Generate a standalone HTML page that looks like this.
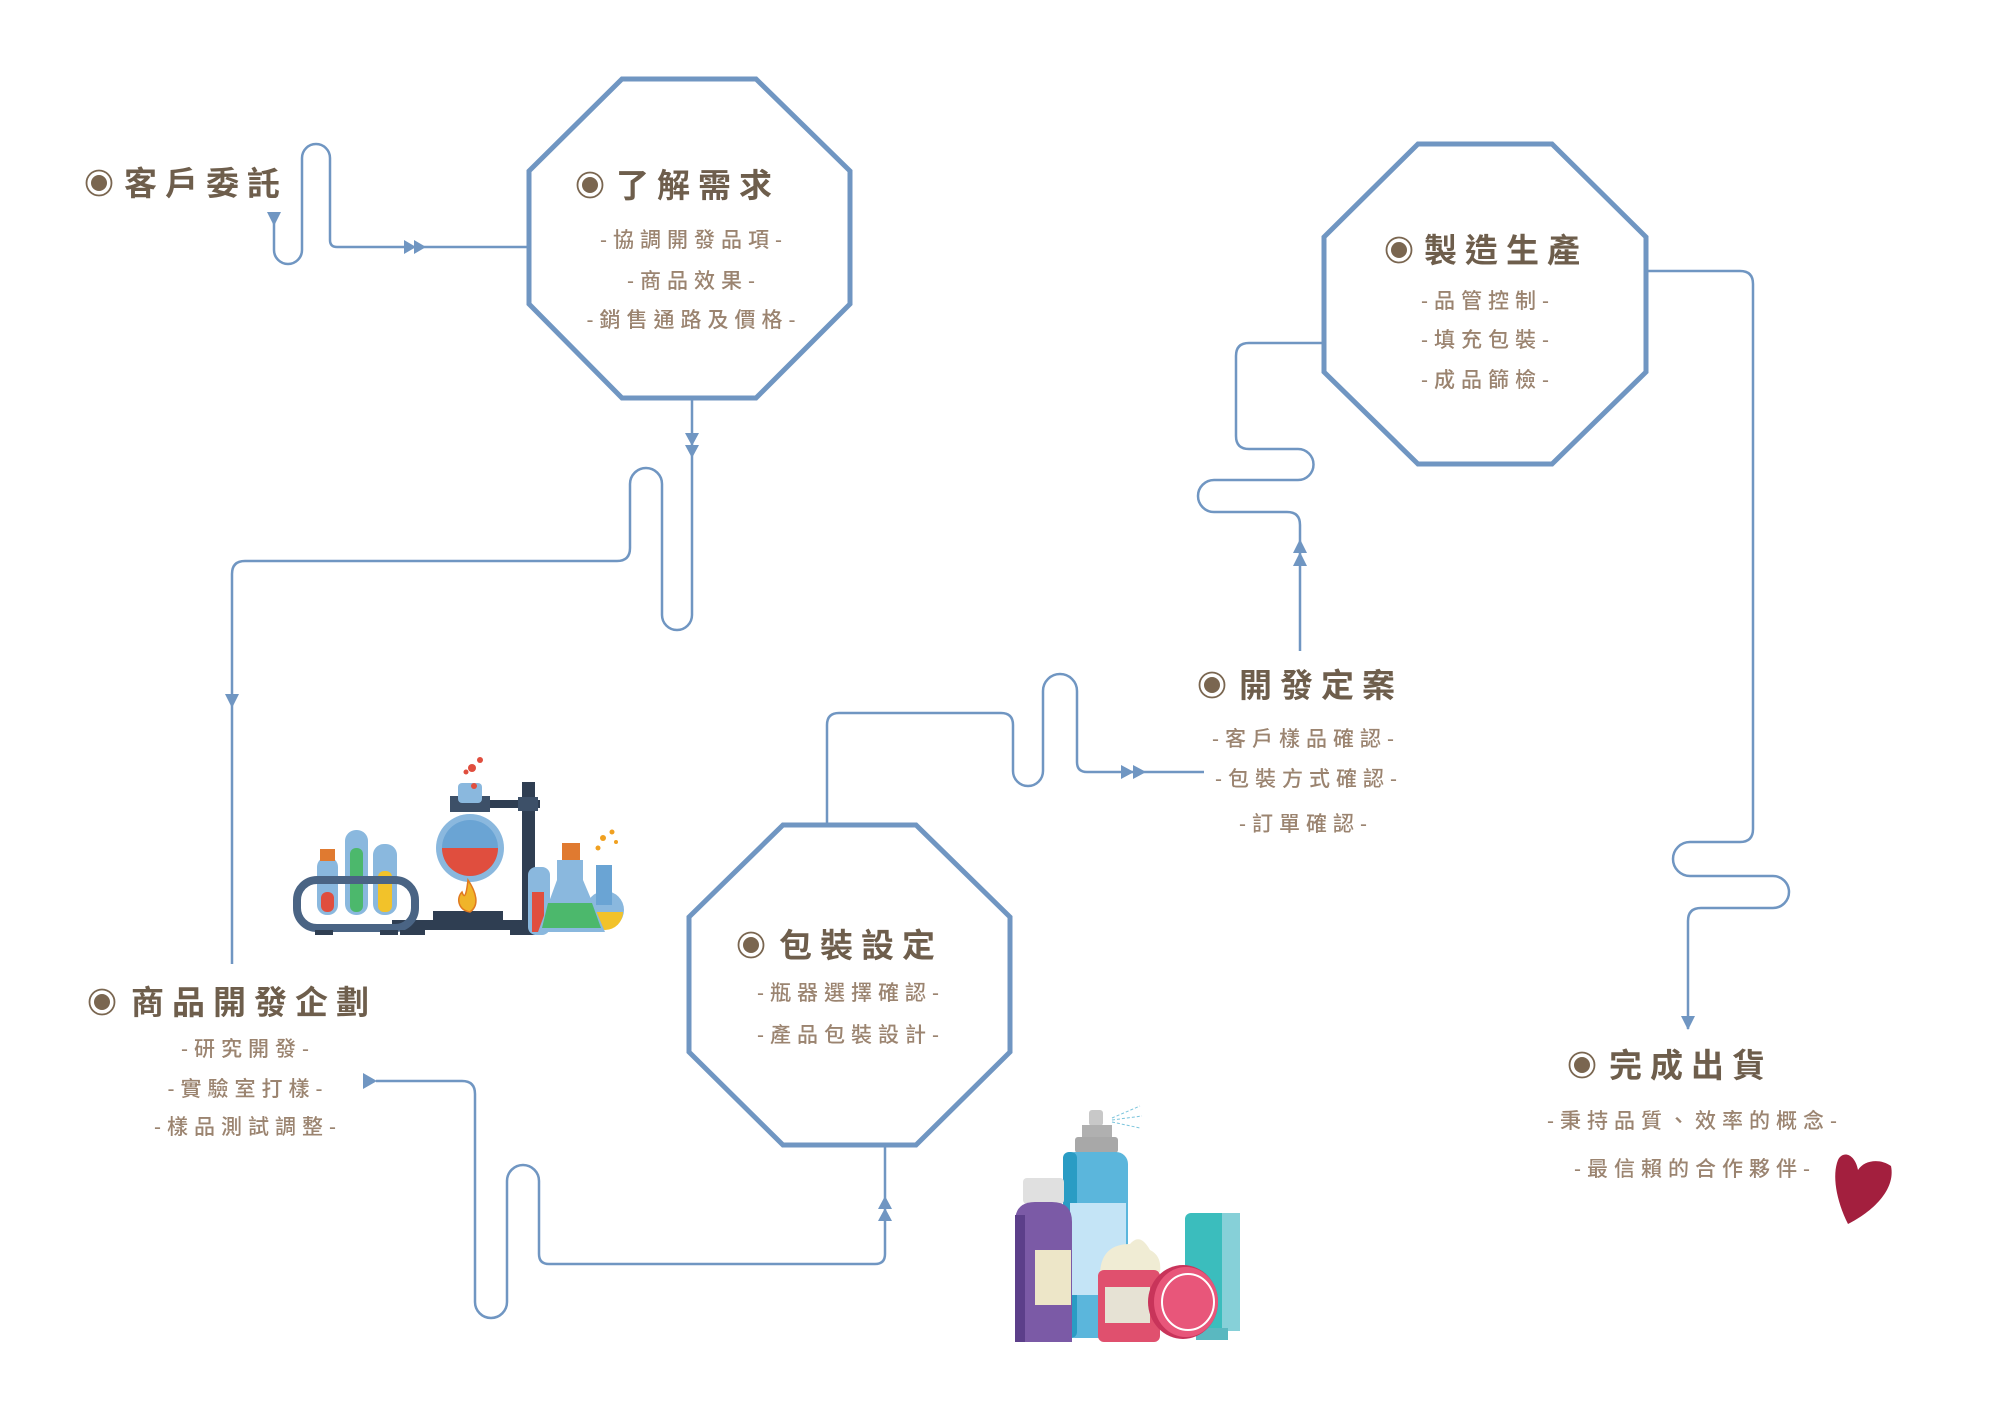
<!DOCTYPE html>
<html><head><meta charset="utf-8"><style>
html,body{margin:0;padding:0;background:#fff;}
svg{display:block;}
.t{font-family:"Liberation Sans","Noto Sans CJK TC",sans-serif;font-size:33px;font-weight:700;fill:#6e5e4c;letter-spacing:8px;}
.s{font-family:"Liberation Sans","Noto Sans CJK TC",sans-serif;font-size:21px;font-weight:500;fill:#9b8470;letter-spacing:6px;text-anchor:middle;}
.c{fill:none;stroke:#7096c2;stroke-width:2.5;}
.o{fill:#fff;stroke:#7096c2;stroke-width:5;}
.a{fill:#7096c2;}
</style></head><body>
<svg width="2000" height="1414" viewBox="0 0 2000 1414" xmlns="http://www.w3.org/2000/svg">
<defs>
<g id="r"><circle r="12.5" fill="none" stroke="#7a6650" stroke-width="1.8"/><circle r="8" fill="#7a6650"/></g>
</defs>
<!-- connectors -->
<path class="c" d="M274,222 L274,250 A14,14 0 0 0 302,250 L302,158 A14,14 0 0 1 330,158 L330,240 Q330,247 337,247 L529,247"/>
<polygon class="a" points="267,212 281,212 274,226"/>
<polygon class="a" points="404,240 404,254 416,247"/><polygon class="a" points="414,240 414,254 426,247"/>

<path class="c" d="M692,398 L692,615 A15,15 0 0 1 662,615 L662,484 A16,16 0 0 0 630,484 L630,548 Q630,561 617,561 L245,561 Q232,561 232,574 L232,964"/>
<polygon class="a" points="685,433 699,433 692,446"/><polygon class="a" points="685,445 699,445 692,458"/>
<polygon class="a" points="225,694 239,694 232,708"/>

<path class="c" d="M376,1081 L462,1081 Q475,1081 475,1094 L475,1302 A16,16 0 0 0 507,1302 L507,1181 A16,16 0 0 1 539,1181 L539,1254 Q539,1264 549,1264 L875,1264 Q885,1264 885,1254 L885,1147"/>
<polygon class="a" points="363,1073 363,1089 377,1081"/>
<polygon class="a" points="878,1209 892,1209 885,1196"/><polygon class="a" points="878,1221 892,1221 885,1208"/>

<path class="c" d="M827,825 L827,725 Q827,713 839,713 L1001,713 Q1013,713 1013,725 L1013,771 A15,15 0 0 0 1043,771 L1043,691 A17,17 0 0 1 1077,691 L1077,762 Q1077,772 1087,772 L1204,772"/>
<polygon class="a" points="1121,765 1121,779 1134,772"/><polygon class="a" points="1133,765 1133,779 1146,772"/>

<path class="c" d="M1300,651 L1300,525 Q1300,512 1287,512 L1214,512 A16,16 0 0 1 1214,480 L1298,480 A15.5,15.5 0 0 0 1298,449 L1249,449 Q1236,449 1236,436 L1236,356 Q1236,343 1249,343 L1324,343"/>
<polygon class="a" points="1293,553 1307,553 1300,539"/><polygon class="a" points="1293,566 1307,566 1300,552"/>

<path class="c" d="M1646,271 L1740,271 Q1753,271 1753,284 L1753,829 Q1753,842 1740,842 L1690,842 A17,17 0 0 0 1690,876 L1773,876 A16,16 0 0 1 1773,908 L1701,908 Q1688,908 1688,921 L1688,1029"/>
<polygon class="a" points="1681,1016 1695,1016 1688,1030"/>

<!-- octagons -->
<polygon class="o" points="622,79 756,79 850,171 850,304 756,398 622,398 529,304 529,171"/>
<polygon class="o" points="783,825 916,825 1010,917 1010,1052 916,1145 783,1145 689,1052 689,917"/>
<polygon class="o" points="1418,144 1552,144 1646,237 1646,372 1552,464 1418,464 1324,372 1324,237"/>

<!-- titles -->
<use href="#r" x="99" y="183"/><text class="t" x="124" y="195">客戶委託</text>
<use href="#r" x="590" y="185"/><text class="t" x="616" y="197">了解需求</text>
<use href="#r" x="102" y="1002"/><text class="t" x="131" y="1014">商品開發企劃</text>
<use href="#r" x="751" y="945"/><text class="t" x="779" y="957">包裝設定</text>
<use href="#r" x="1212" y="685"/><text class="t" x="1239" y="697">開發定案</text>
<use href="#r" x="1399" y="250"/><text class="t" x="1424" y="262">製造生產</text>
<use href="#r" x="1582" y="1065"/><text class="t" x="1609" y="1077">完成出貨</text>

<!-- subtitles -->
<text class="s" x="694" y="247">-協調開發品項-</text>
<text class="s" x="694" y="288">-商品效果-</text>
<text class="s" x="694" y="327">-銷售通路及價格-</text>
<text class="s" x="248" y="1056">-研究開發-</text>
<text class="s" x="248" y="1096">-實驗室打樣-</text>
<text class="s" x="248" y="1134">-樣品測試調整-</text>
<text class="s" x="851" y="1000">-瓶器選擇確認-</text>
<text class="s" x="851" y="1042">-產品包裝設計-</text>
<text class="s" x="1306" y="746">-客戶樣品確認-</text>
<text class="s" x="1309" y="786">-包裝方式確認-</text>
<text class="s" x="1306" y="831">-訂單確認-</text>
<text class="s" x="1488" y="308">-品管控制-</text>
<text class="s" x="1488" y="347">-填充包裝-</text>
<text class="s" x="1488" y="387">-成品篩檢-</text>
<text class="s" x="1695" y="1128">-秉持品質、效率的概念-</text>
<text class="s" x="1695" y="1176">-最信賴的合作夥伴-</text>

<!-- heart -->
<path d="M1848,1224 C1836,1200 1832,1175 1838,1160 C1843,1150 1855,1154 1858,1170 C1864,1160 1880,1158 1891,1166 C1896,1190 1872,1212 1848,1224 Z" fill="#a31f3e"/>

<!-- lab illustration -->
<g>
<rect x="392" y="920" width="143" height="10" fill="#2f3e52"/>
<rect x="433" y="911" width="70" height="10" fill="#2f3e52"/>
<rect x="522" y="782" width="13" height="148" fill="#2f3e52"/>
<rect x="450" y="800" width="90" height="8" fill="#2f3e52"/>
<rect x="518" y="797" width="20" height="14" fill="#3d5068"/>
<rect x="450" y="796" width="40" height="16" fill="#3d5068"/>
<rect x="458" y="783" width="24" height="20" rx="4" fill="#8ab8de"/>
<circle cx="470" cy="848" r="34" fill="#8ab8de"/>
<circle cx="470" cy="848" r="28" fill="#6aa4d4"/>
<path d="M442,848 A28,28 0 0 0 498,848 Z" fill="#e04e3e"/>
<circle cx="472" cy="768" r="4" fill="#e04e3e"/><circle cx="480" cy="760" r="3" fill="#e04e3e"/><circle cx="466" cy="772" r="2.5" fill="#e04e3e"/><circle cx="474" cy="786" r="3" fill="#e04e3e"/>
<path d="M468,880 C476,892 480,905 470,912 C458,910 456,898 462,892 C464,898 466,898 468,880 Z" fill="#f0b429" stroke="#e07a20" stroke-width="1.5"/>
<rect x="317" y="857" width="21" height="58" rx="10" fill="#8ab8de"/><rect x="321" y="892" width="13" height="20" rx="6" fill="#e04e3e"/><rect x="320" y="849" width="15" height="12" fill="#e07a30"/>
<rect x="345" y="830" width="23" height="85" rx="11" fill="#8ab8de"/><rect x="350" y="848" width="13" height="64" rx="6" fill="#4cb86c"/>
<rect x="373" y="844" width="24" height="71" rx="11" fill="#8ab8de"/><rect x="378" y="871" width="14" height="41" rx="6" fill="#f2c22a"/>
<rect x="297" y="880" width="118" height="48" rx="20" fill="none" stroke="#4a6484" stroke-width="8"/>
<rect x="315" y="930" width="18" height="5" fill="#2f3e52"/><rect x="380" y="930" width="18" height="5" fill="#2f3e52"/><rect x="400" y="930" width="25" height="5" fill="#2f3e52"/><rect x="510" y="930" width="25" height="5" fill="#2f3e52"/>
<rect x="528" y="867" width="22" height="68" rx="8" fill="#8ab8de"/><rect x="532" y="892" width="12" height="40" fill="#e04e3e"/>
<circle cx="605" cy="910" r="19" fill="#8ab8de"/><rect x="596" y="865" width="16" height="40" fill="#6aa4d4"/><path d="M587,912 A18,18 0 0 0 623,912 Z" fill="#f2c22a"/>
<polygon points="557,860 583,860 583,880 605,932 538,932 557,880" fill="#8ab8de"/>
<polygon points="548,903 592,903 601,928 542,928" fill="#4cb86c"/>
<rect x="562" y="843" width="18" height="17" fill="#e07a30"/>
<circle cx="603" cy="838" r="3" fill="#f0a020"/><circle cx="612" cy="832" r="2.5" fill="#f0a020"/><circle cx="598" cy="848" r="2.5" fill="#f0a020"/><circle cx="616" cy="842" r="2" fill="#f0a020"/>
</g>

<!-- cosmetics -->
<g>
<rect x="1089" y="1110" width="14" height="16" rx="3" fill="#c8c8c8"/>
<rect x="1082" y="1125" width="30" height="14" fill="#b0b0b0"/>
<rect x="1075" y="1137" width="43" height="16" rx="3" fill="#a8a8a8"/>
<path d="M1112,1118 L1140,1106 M1112,1120 L1142,1116 M1112,1122 L1140,1128" stroke="#7ac4dc" stroke-width="1" stroke-dasharray="3 2"/>
<rect x="1063" y="1152" width="65" height="186" rx="12" fill="#5bb6dc"/>
<rect x="1063" y="1152" width="14" height="186" rx="6" fill="#2a9cc4"/>
<rect x="1070" y="1203" width="56" height="92" fill="#c4e4f6"/>
<rect x="1023" y="1178" width="41" height="26" rx="4" fill="#e0e0e0"/>
<path d="M1015,1222 Q1015,1202 1035,1202 L1052,1202 Q1072,1202 1072,1222 L1072,1342 L1015,1342 Z" fill="#7b5aa6"/>
<rect x="1015" y="1215" width="10" height="127" fill="#5c3f8a"/>
<rect x="1035" y="1250" width="36" height="55" fill="#ede6c8"/>
<rect x="1185" y="1213" width="55" height="118" rx="6" fill="#3bbdbd"/>
<rect x="1222" y="1213" width="18" height="118" fill="#86d0d8"/>
<rect x="1196" y="1328" width="32" height="12" fill="#5ab8c0"/>
<path d="M1100,1272 Q1102,1244 1130,1244 Q1140,1232 1150,1250 Q1162,1256 1160,1272 Z" fill="#f0ecd4"/>
<rect x="1098" y="1270" width="62" height="72" rx="6" fill="#e0506e"/>
<rect x="1105" y="1287" width="45" height="36" fill="#e6e2d4"/>
<ellipse cx="1183" cy="1302" rx="35" ry="37" fill="#c8345a"/>
<ellipse cx="1186" cy="1302" rx="32" ry="35" fill="#e8567a"/>
<ellipse cx="1188" cy="1302" rx="26" ry="28" fill="none" stroke="#fff" stroke-width="2"/>
</g>
</svg>
</body></html>
